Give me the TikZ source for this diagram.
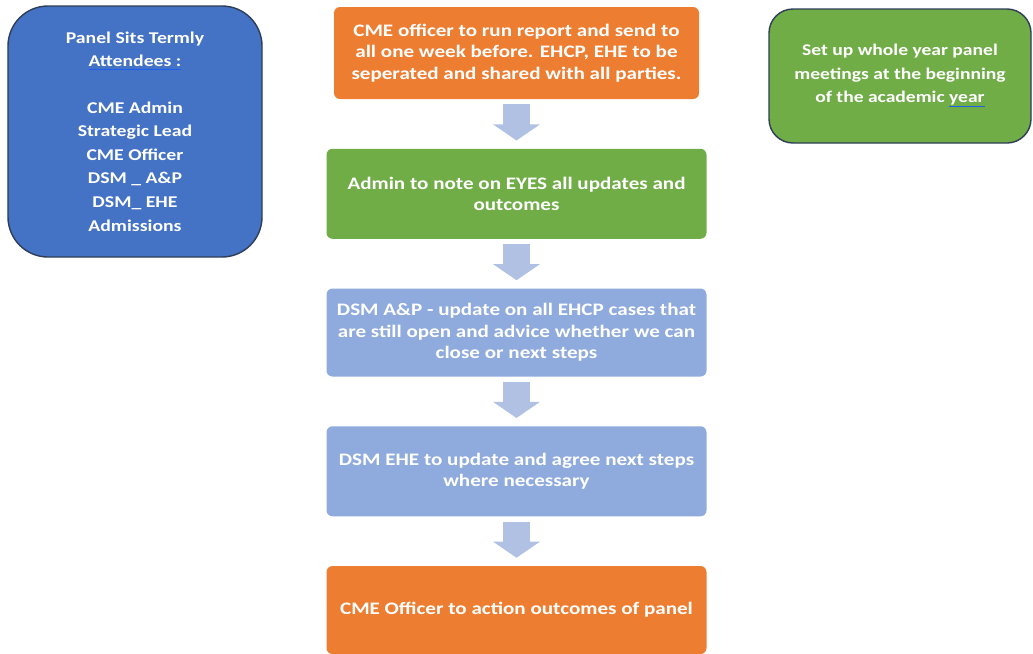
\documentclass[tikz,border=0pt]{standalone}
\usepackage{fontspec}
\setmainfont{Carlito}[FakeStretch=1.2]
\usetikzlibrary{arrows.meta, positioning, calc}

\definecolor{cmeorange}{RGB}{237,125,49}
\definecolor{cmegreen}{RGB}{112,173,71}
\definecolor{cmeblue}{RGB}{68,114,196}
\definecolor{cmelight}{RGB}{143,170,220}
\definecolor{arrowblue}{RGB}{176,193,227}
\definecolor{edgedark}{RGB}{47,62,86}
\definecolor{spellblue}{RGB}{30,95,235}

\begin{document}
\begin{tikzpicture}[node distance=1.23cm, font=\fontsize{12.5}{15.4}\selectfont\bfseries, text=white]
        \tikzstyle{orangestep} = [rectangle, rounded corners=0.15cm, minimum width=9.5cm, minimum height=2.25cm, text centered, align=center, fill=cmeorange]
        \tikzstyle{greenstep} = [orangestep, fill=cmegreen]
        \tikzstyle{bluestep} = [orangestep, fill=cmelight]
        \tikzstyle{sidebox} = [rectangle, rounded corners=0.75cm, text centered, align=center, draw=edgedark, line width=1pt]
        \tikzstyle{blockarrow} = [arrowblue, line width=19.2pt, -{Triangle[length=11.4pt, width=32.7pt]}, shorten <=3.6pt, shorten >=5.7pt]

        \useasboundingbox (0,0) rectangle (25.825,-16.325);

        \node (report) [orangestep, minimum width=9.125cm, minimum height=2.3cm] at (12.9125,-1.325) {CME officer to run report and send to\\all one week before. EHCP, EHE to be\\seperated and shared with all parties.};
        \node (eyes) [greenstep, below=of report] {Admin  to note on EYES all updates and\\outcomes};
        \node (ehcp) [bluestep, below=of eyes, minimum height=2.2cm] {DSM A\&P - update on all EHCP cases that\\are still open and advice whether we can\\close or next steps};
        \node (ehe) [bluestep, below=of ehcp] {DSM EHE to update and agree next steps\\where necessary};
        \node (action) [orangestep, below=of ehe, minimum height=2.2cm] {CME Officer to action outcomes of panel};

        \node (attendees) [sidebox, fill=cmeblue, minimum width=6.35cm, minimum height=6.275cm, rounded corners=1cm, font=\fontsize{11.7}{16.8}\selectfont\bfseries] at (3.375,-3.2875) {Panel Sits Termly\\{\color{spellblue}\underline{\color{white}Attendees :}}\\[16pt]CME Admin\\Strategic Lead\\CME Officer\\DSM \_ A\&P\\DSM\_ EHE\\Admissions};
        \node (yearplan) [sidebox, fill=cmegreen, minimum width=6.55cm, minimum height=3.35cm, rounded corners=0.6cm, font=\fontsize{11.6}{16.4}\selectfont\bfseries] at (22.5,-1.9) {Set up whole year panel\\meetings at the beginning\\of the academic {\color{spellblue}\underline{\color{white}year}}};

        \draw [blockarrow] (report) -- (eyes);
        \draw [blockarrow] (eyes) -- (ehcp);
        \draw [blockarrow] (ehcp) -- (ehe);
        \draw [blockarrow] (ehe) -- (action);
    \end{tikzpicture}
\end{document}
